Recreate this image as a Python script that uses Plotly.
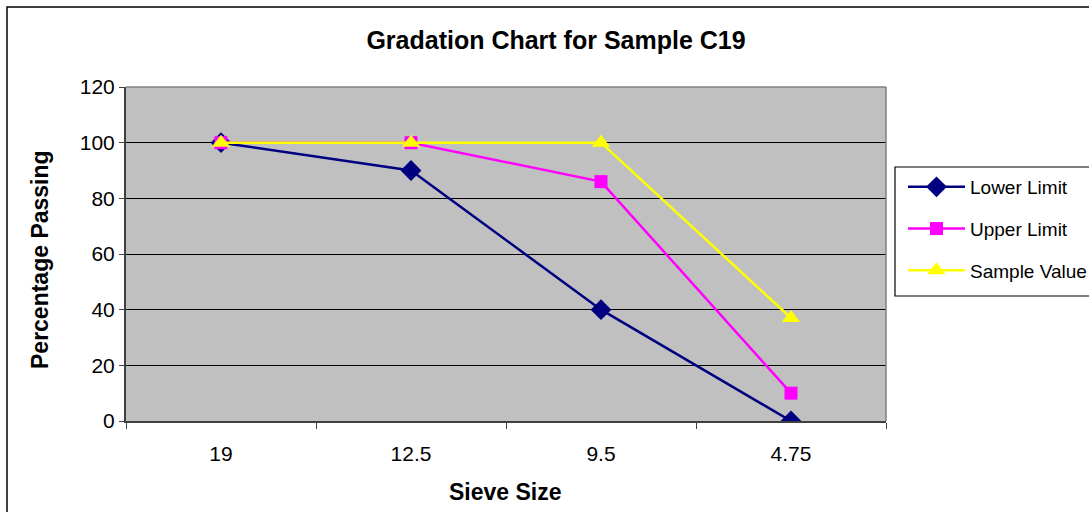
import plotly.graph_objects as go

# Sieve sizes (mm) and percentage passing for each series
sieve_sizes = ["19", "12.5", "9.5", "4.75"]
lower_limit = [100, 90, 40, 0]
upper_limit = [100, 100, 86, 10]
sample_value = [100, 100, 100, 37]

FONT = "Liberation Sans, Arial, sans-serif"

# plot area in pixels
W, H = 1089, 512
L, R, T, B = 126, 886, 87, 421


def px_x(p):
    return (p - L) / (R - L)


def px_y(p):
    return (B - p) / (B - T)


fig = go.Figure()

fig.add_trace(go.Scatter(
    x=sieve_sizes, y=lower_limit, name="Lower Limit", legendgroup="a",
    mode="lines+markers",
    line=dict(color="#000080", width=2.5),
    marker=dict(symbol="diamond", size=16, color="#000080"),
))
fig.add_trace(go.Scatter(
    x=sieve_sizes, y=upper_limit, name="Upper Limit", legendgroup="b",
    mode="lines+markers",
    line=dict(color="#FF00FF", width=2.5),
    marker=dict(symbol="square", size=13, color="#FF00FF"),
))
fig.add_trace(go.Scatter(
    x=sieve_sizes, y=sample_value, name="Sample Value", legendgroup="c",
    mode="lines+markers",
    line=dict(color="#FFFF00", width=2.5),
    marker=dict(symbol="triangle-up", size=16, color="#FFFF00"),
))

shapes = [
    # outer chart frame
    dict(type="rect", xref="paper", yref="paper",
         x0=px_x(7), x1=px_x(1110), y0=px_y(530), y1=px_y(7),
         line=dict(color="black", width=1.5), fillcolor="rgba(0,0,0,0)",
         layer="below"),
    # legend box
    dict(type="rect", xref="paper", yref="paper",
         x0=px_x(895), x1=px_x(1110), y0=px_y(296), y1=px_y(167),
         line=dict(color="black", width=1.2), fillcolor="white",
         layer="above"),
    # plot-area top and right edges
    dict(type="line", xref="paper", yref="paper", x0=0, x1=1, y0=1, y1=1,
         line=dict(color="#808080", width=1.5)),
    dict(type="line", xref="paper", yref="paper", x0=1, x1=1, y0=0, y1=1,
         line=dict(color="#808080", width=1.5)),
]

annotations = [
    dict(text="<b>Percentage Passing</b>", xref="paper", yref="paper",
         x=px_x(40), y=px_y(260), textangle=-90, showarrow=False,
         font=dict(family=FONT, size=23, color="black"),
         xanchor="center", yanchor="middle"),
    dict(text="<b>Sieve Size</b>", xref="paper", yref="paper",
         x=px_x(505), y=px_y(492), showarrow=False,
         font=dict(family=FONT, size=23, color="black"),
         xanchor="center", yanchor="middle"),
]

fig.update_layout(
    width=W, height=H,
    margin=dict(l=L, r=W - R, t=T, b=H - B, autoexpand=False),
    paper_bgcolor="white",
    plot_bgcolor="#C0C0C0",
    font=dict(family=FONT, size=21, color="black"),
    title=dict(text="<b>Gradation Chart for Sample C19</b>",
               x=(556 / W), xanchor="center", y=1 - 40 / H, yanchor="middle",
               font=dict(family=FONT, size=25, color="black")),
    xaxis=dict(
        type="category", range=[-0.5, 3.5],
        showgrid=False, zeroline=False,
        showline=True, linecolor="#404040", linewidth=1.5,
        ticks="outside", tickson="boundaries", ticklen=6,
        tickcolor="#404040", tickwidth=1,
        ticklabelstandoff=13,
        tickfont=dict(family=FONT, size=21, color="black"),
    ),
    yaxis=dict(
        range=[0, 120], dtick=20,
        showgrid=True, gridcolor="black", gridwidth=1,
        zeroline=False,
        showline=True, linecolor="#404040", linewidth=2,
        ticks="outside", ticklen=5, tickcolor="#404040", tickwidth=1,
        tickfont=dict(family=FONT, size=21, color="black"),
    ),
    legend=dict(
        x=px_x(903), xanchor="left", y=px_y(168), yanchor="top",
        bgcolor="rgba(0,0,0,0)", borderwidth=0,
        font=dict(family=FONT, size=19, color="black"),
        itemwidth=57, tracegroupgap=14,
    ),
    shapes=shapes,
    annotations=annotations,
)

fig.write_html("out.html")
